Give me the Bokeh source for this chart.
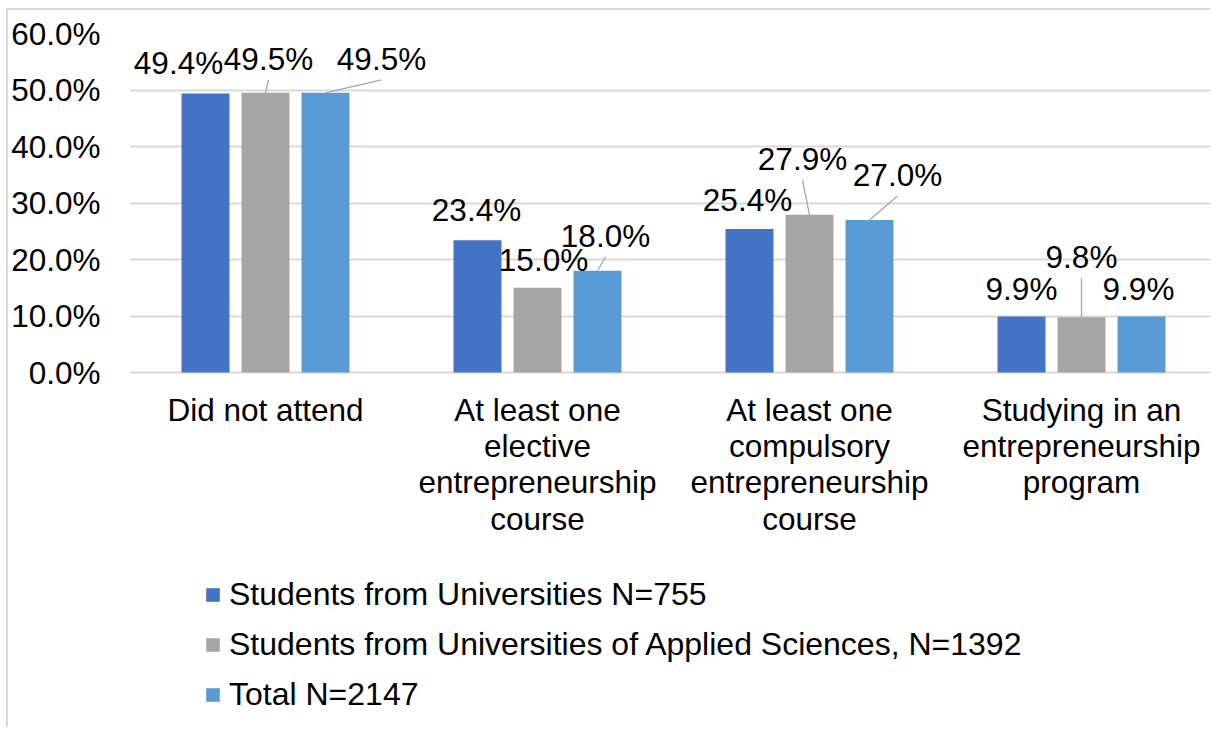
from bokeh.plotting import figure
from bokeh.models import (ColumnDataSource, Range1d, FixedTicker, PrintfTickFormatter,
                          Legend, LegendItem)
from bokeh.core.properties import value
from bokeh.embed import file_html
from bokeh.resources import INLINE

# ---------------- data ----------------
categories = [
    "Did not attend",
    "At least one\nelective\nentrepreneurship\ncourse",
    "At least one\ncompulsory\nentrepreneurship\ncourse",
    "Studying in an\nentrepreneurship\nprogram",
]
series_names = [
    "Students from Universities N=755",
    "Students from Universities of Applied Sciences, N=1392",
    "Total N=2147",
]
universities = [49.4, 23.4, 25.4, 9.9]
applied_sciences = [49.5, 15.0, 27.9, 9.8]
total = [49.5, 18.0, 27.0, 9.9]
y_ticks = [0, 10, 20, 30, 40, 50, 60]

# ---------------- style ----------------
colors = ["#4472C4", "#A5A5A5", "#5B9BD5"]
FONT = "Liberation Sans"
FS = "31.5px"
LEG_FS = "32px"
W, H = 1204, 719
LEFT, TOP = 121, 23
FRAME_H = H - TOP            # frame runs to the bottom of the canvas
PLOT_H = 339                 # px from 0% to 60%
FRAME_W = W - LEFT
PX_PER_CAT = 272
Y_MAX = 60
PX_PER_PCT = PLOT_H / Y_MAX
Y_MIN = Y_MAX - FRAME_H / PX_PER_PCT
DODGE_PX = 60
BAR_PX = 48
CAT_LABEL_OFFSET = 19
# label offsets in px from bar top centre (dx right, dy up), per series x category
label_dx = [[-27, -1, -2, 0], [3, 6, -7, 0], [56, 8, 28, -3]]
label_dy = [[30, 30, 29, 28], [34, 28, 56, 60], [34, 35, 45, 28]]
leader = [[False, False, False, False], [True, False, True, True], [True, True, True, False]]
LEADER_GAP = 21

series_values = [universities, applied_sciences, total]
group_x = [i + 1 for i in range(len(categories))]

p = figure(width=W, height=H,
           x_range=Range1d(0.5, 0.5 + FRAME_W / PX_PER_CAT),
           y_range=Range1d(Y_MIN, Y_MAX),
           x_axis_location=None,
           output_backend="svg", toolbar_location=None,
           min_border_left=LEFT, min_border_top=TOP, min_border_right=0,
           min_border_bottom=0)
p.outline_line_color = None
p.background_fill_color = "white"
p.border_fill_color = "white"
p.styles = {"border-top": "2px solid #D9D9D9", "border-left": "2px solid #D9D9D9",
            "margin-left": "6px", "margin-top": "8px"}

# y axis
p.yaxis.ticker = FixedTicker(ticks=y_ticks)
p.yaxis.formatter = PrintfTickFormatter(format="%.1f%%")
p.yaxis.axis_line_color = None
p.yaxis.major_tick_line_color = None
p.yaxis.minor_tick_line_color = None
p.yaxis.major_tick_out = 0
p.yaxis.major_tick_in = 0
p.yaxis.major_label_text_font = FONT
p.yaxis.major_label_text_font_size = FS
p.yaxis.major_label_text_color = "black"
p.yaxis.major_label_standoff = 29
p.xgrid.visible = False
p.ygrid.ticker = FixedTicker(ticks=y_ticks)
p.ygrid.grid_line_color = "#D9D9D9"
p.ygrid.grid_line_width = 2

# category labels
p.text(x=group_x, y=[0] * len(group_x), text=categories, y_offset=CAT_LABEL_OFFSET,
       text_font=value(FONT), text_font_size=FS, text_color="black",
       text_align="center", text_baseline="top", text_line_height=1.01)

items = []
lx, ly, lt, ldx, ldy = [], [], [], [], []
sx0, sy0, sx1, sy1 = [], [], [], []
for s, vals in enumerate(series_values):
    xs = [g + (s - 1) * DODGE_PX / PX_PER_CAT for g in group_x]
    src = ColumnDataSource(dict(x=xs, top=vals))
    r = p.vbar(x="x", top="top", bottom=0, width=BAR_PX / PX_PER_CAT, source=src,
               fill_color=colors[s], line_color=None)
    items.append(LegendItem(label=series_names[s], renderers=[r]))
    for c, (x, v) in enumerate(zip(xs, vals)):
        lx.append(x)
        ly.append(v)
        lt.append(f"{v:.1f}%")
        ldx.append(label_dx[s][c])
        ldy.append(-label_dy[s][c])
        if leader[s][c]:
            sx0.append(x + label_dx[s][c] / PX_PER_CAT)
            sy0.append(v + (label_dy[s][c] - LEADER_GAP) / PX_PER_PCT)
            sx1.append(x)
            sy1.append(v)

p.segment(x0=sx0, y0=sy0, x1=sx1, y1=sy1, line_color="#A6A6A6", line_width=1.3)
p.text(x="x", y="y", text="t", x_offset="dx", y_offset="dy",
       source=ColumnDataSource(dict(x=lx, y=ly, t=lt, dx=ldx, dy=ldy)),
       text_font=value(FONT), text_font_size=FS, text_color="black",
       text_align="center", text_baseline="middle")

legend = Legend(items=items, location=(75, 16), orientation="vertical",
                label_text_font=FONT, label_text_font_size=LEG_FS, label_text_color="black",
                glyph_width=17, glyph_height=17, label_height=17, label_standoff=8,
                spacing=13, padding=0, margin=0,
                border_line_color=None, background_fill_alpha=0)
p.add_layout(legend)

open("out.html", "w").write(file_html(p, INLINE))
